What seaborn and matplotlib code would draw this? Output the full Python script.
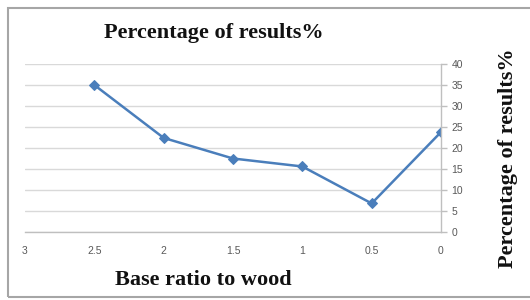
import matplotlib
matplotlib.use("Agg")
import matplotlib.pyplot as plt
import seaborn as sns
import pandas as pd
from matplotlib.patches import Rectangle

ratio = [2.5, 2.0, 1.5, 1.0, 0.5, 0.0]
percent = [35.0, 22.4, 17.5, 15.6, 6.8, 23.8]
x_ticks = [3, 2.5, 2, 1.5, 1, 0.5, 0]
x_tick_labels = ["3", "2.5", "2", "1.5", "1", "0.5", "0"]
y_ticks = [0, 5, 10, 15, 20, 25, 30, 35, 40]

sns.set_style("white")
plt.rcParams['font.family'] = ['Liberation Serif', 'DejaVu Serif']

df = pd.DataFrame({"ratio": ratio, "percent": percent})

fig = plt.figure(figsize=(5.30, 3.00), dpi=100)
ax = fig.add_axes([25/530, 1-232/300, (441-25)/530, (232-64)/300])

sns.lineplot(data=df, x="ratio", y="percent", ax=ax, color="#4A7EBB",
             marker="D", markersize=5.5, markeredgecolor="#4A7EBB", linewidth=1.8)

ax.set_xlim(3, 0)
ax.set_ylim(0, 40)
ax.set_xticks(x_ticks)
ax.set_xticklabels(x_tick_labels)
ax.set_yticks(y_ticks)
ax.yaxis.tick_right()
ax.grid(axis="y", color="#D9D9D9", linewidth=1.0)
ax.set_axisbelow(True)
for s in ["top", "left"]:
    ax.spines[s].set_visible(False)
for s in ["right", "bottom"]:
    ax.spines[s].set_color("#BFBFBF")
    ax.spines[s].set_linewidth(1.0)
ax.tick_params(axis="both", colors="#BFBFBF", labelcolor="#595959", labelsize=7.5,
               length=4, width=1.0, direction="out")
ax.tick_params(axis="x", pad=6)
for lab in ax.get_xticklabels() + ax.get_yticklabels():
    lab.set_family(["Liberation Sans", "DejaVu Sans"])
ax.set_xlabel("")
ax.set_ylabel("")

fig.text(214/530, 1-33/300, "Percentage of results%", ha="center", va="center",
         fontsize=16, fontweight="bold", color="#111111")
fig.text(203/530, 1-280/300, "Base ratio to wood", ha="center", va="center",
         fontsize=16, fontweight="bold", color="#111111")
fig.text(508/530, 1-158/300, "Percentage of results%", ha="center", va="center",
         fontsize=16, fontweight="bold", rotation=90, color="#111111")

fig.patches.append(Rectangle((8/530, 1-297/300), 530, 289/300,
                             transform=fig.transFigure, fill=False,
                             edgecolor="#A6A6A6", linewidth=1.5))

fig.savefig("out.png", dpi=100)
